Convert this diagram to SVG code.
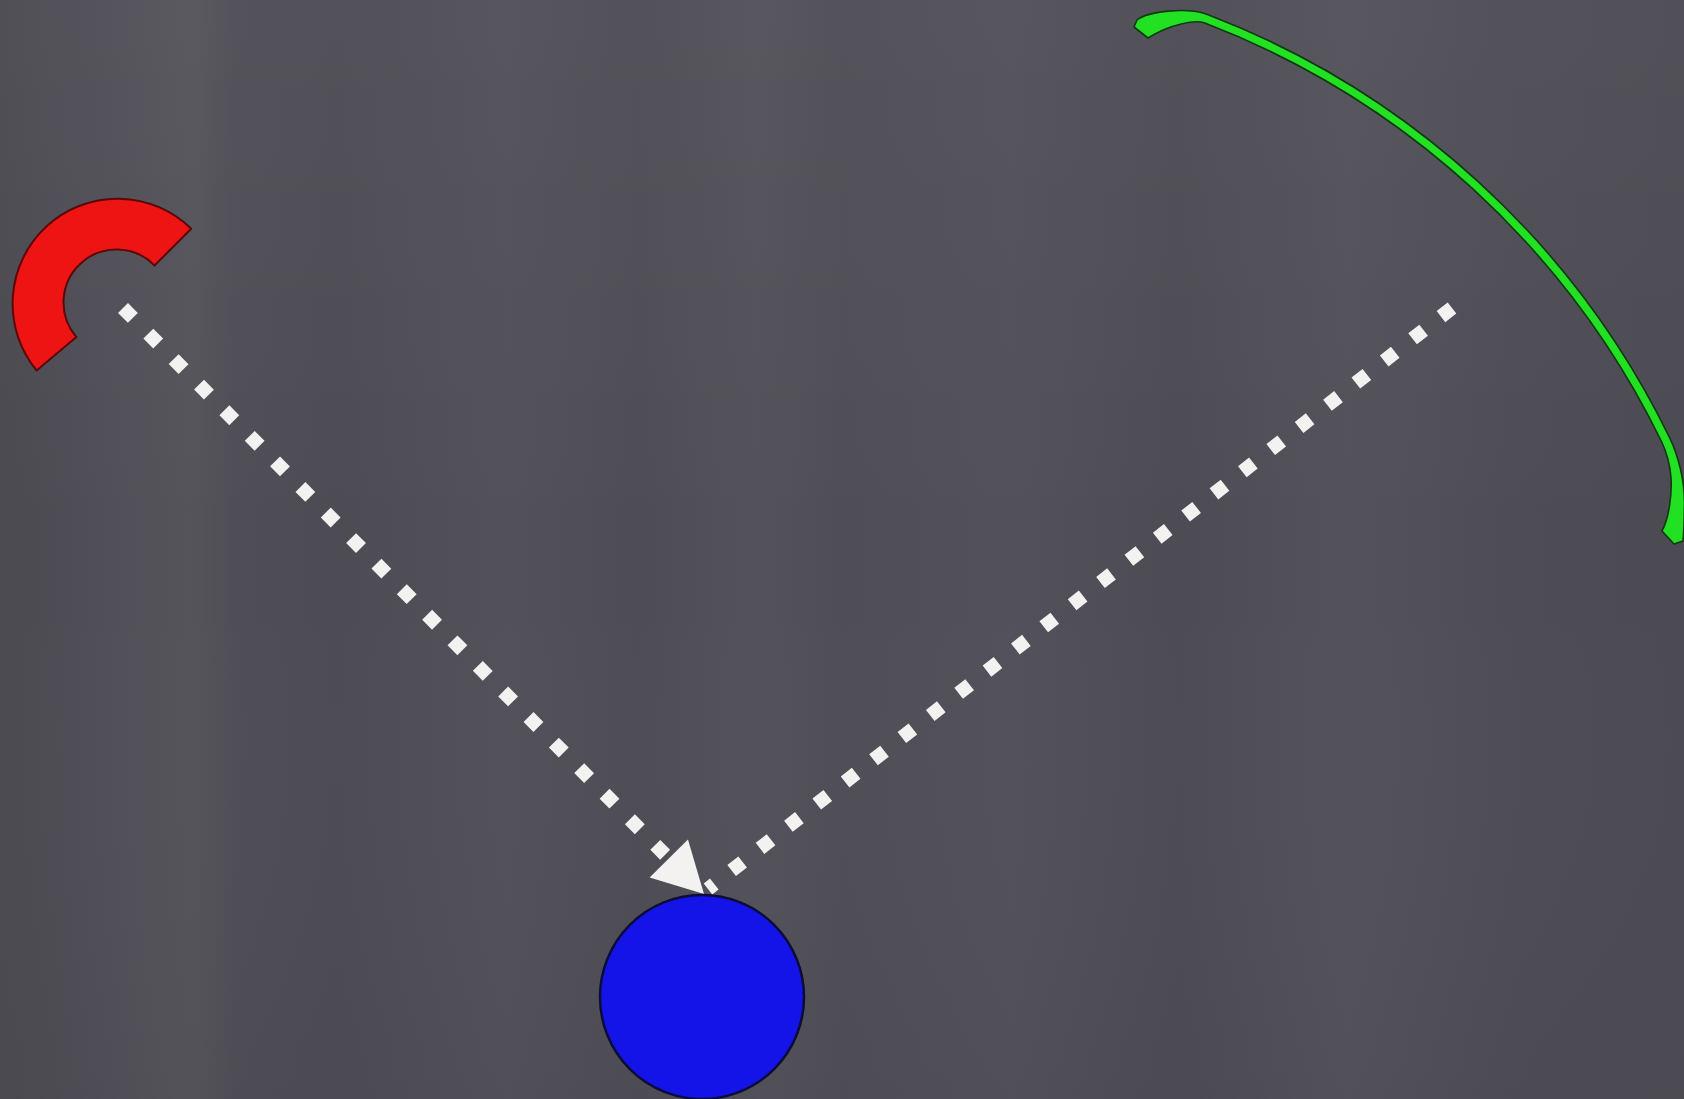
<svg xmlns="http://www.w3.org/2000/svg" width="1684" height="1099" viewBox="0 0 1684 1099">
  <style>
    .dash { fill: none; stroke: #f4f2f0; stroke-width: 14; stroke-dasharray: 14 22; stroke-linecap: butt; }
    .red { fill: #ee1414; stroke: #5a0808; stroke-width: 2; stroke-linejoin: round; }
    .blue { fill: #1414e8; stroke: #0c0c3a; stroke-width: 2.5; }
    .green { fill: #22e022; stroke: #0f3a10; stroke-width: 1.6; stroke-linejoin: round; }
  </style>
  <defs>
    <linearGradient id="bgStreaks" x1="0" y1="0" x2="1" y2="0">
      <stop offset="0" stop-color="#4b4a51"/>
      <stop offset="0.06" stop-color="#504f57"/>
      <stop offset="0.115" stop-color="#55545b"/>
      <stop offset="0.14" stop-color="#4f4e56"/>
      <stop offset="0.2" stop-color="#4d4c54"/>
      <stop offset="0.3" stop-color="#52515a"/>
      <stop offset="0.38" stop-color="#4e4d55"/>
      <stop offset="0.45" stop-color="#53525a"/>
      <stop offset="0.5" stop-color="#4f4e56"/>
      <stop offset="0.6" stop-color="#52505a"/>
      <stop offset="0.7" stop-color="#4d4c54"/>
      <stop offset="0.8" stop-color="#53525b"/>
      <stop offset="0.9" stop-color="#4e4d56"/>
      <stop offset="1" stop-color="#4c4b53"/>
    </linearGradient>
    <linearGradient id="bgShade" x1="0" y1="0" x2="0" y2="1">
      <stop offset="0" stop-color="#ffffff" stop-opacity="0.03"/>
      <stop offset="0.5" stop-color="#ffffff" stop-opacity="0"/>
      <stop offset="1" stop-color="#000000" stop-opacity="0.02"/>
    </linearGradient>
    <marker id="arrow" markerUnits="userSpaceOnUse" markerWidth="60" markerHeight="60" refX="52" refY="28" orient="auto" viewBox="0 0 60 56">
      <path d="M2,1 L52,28 L2,55 Z" fill="#f4f2f0"/>
    </marker>
  </defs>

  <rect x="0" y="0" width="1684" height="1099" fill="url(#bgStreaks)"/>
  <rect x="0" y="0" width="1684" height="1099" fill="url(#bgShade)"/>

  <g id="connectors">
    <path id="edge-red-blue" class="dash" d="M123,308 L704,894" marker-end="url(#arrow)"/>
    <path id="edge-green-blue" class="dash" d="M1452,308 L708,889"/>
  </g>

  <g id="node-red">
    <path class="red" d="M191.2,228.8 A105,105 0 0 0 36.6,370.5 L76.4,337.1 A53,53 0 0 1 154.5,265.5 Z"/>
  </g>

  <g id="node-green">
    <path class="green" d="M1137,20 C1148,11 1188,7 1208.1,14.7 A854,854 0 0 1 1669.6,437.6 C1678.4,455.6 1685,482 1684.5,505 C1684,520 1684,532 1683,541 L1674,544 L1662,531 C1669,518 1672,495 1671,478 C1670,463 1666,451 1661.5,441.5 A845,845 0 0 0 1204.8,23.1 C1195.5,19.5 1170,24 1148,38 L1134,27 Z"/>
  </g>

  <g id="node-blue">
    <circle class="blue" cx="702" cy="997" r="102"/>
  </g>
</svg>
